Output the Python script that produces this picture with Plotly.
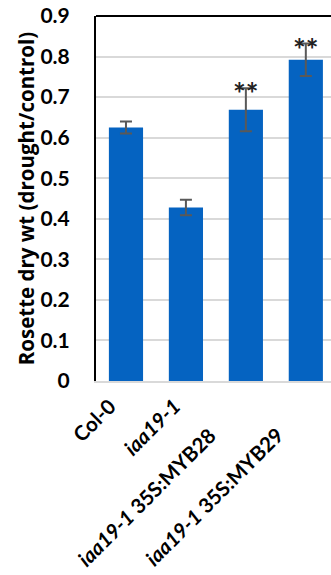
import plotly.graph_objects as go

# Genotypes and rosette dry weight ratios (drought/control)
genotypes = ["Col-0", "<i>iaa19-1</i>", "<i>iaa19-1</i> 35S:MYB28", "<i>iaa19-1</i> 35S:MYB29"]
ratio = [0.625, 0.428, 0.669, 0.792]
ratio_err = [0.015, 0.019, 0.053, 0.040]
significance = ["", "", "**", "**"]

# Category-label placement (pixel nudges of each rotated label end)
label_dx = [-3, 1, -23, -15]
label_dy = [-10, -10, -39, -39]

FONT = "Lato, 'Open Sans', sans-serif"
BLUE = "#0563C1"

fig = go.Figure()
fig.add_trace(go.Bar(
    x=list(range(len(genotypes))),
    y=ratio,
    marker=dict(color=BLUE, line=dict(width=0)),
    width=0.57,
    error_y=dict(type="data", array=ratio_err, visible=True,
                 color="#595959", thickness=2, width=6),
))

for i, (v, e, s) in enumerate(zip(ratio, ratio_err, significance)):
    if s:
        fig.add_annotation(x=i, y=v + e, text=f"<b>{s}</b>", showarrow=False,
                           yanchor="middle", yshift=-5,
                           font=dict(family=FONT, size=30, color="#222222"))

# Rotated category labels
for i, g in enumerate(genotypes):
    fig.add_annotation(x=i, y=0, xref="x", yref="y", text=f"<b>{g}</b>",
                       showarrow=False, textangle=-45,
                       xanchor="right", yanchor="top",
                       xshift=label_dx[i], yshift=label_dy[i],
                       font=dict(family=FONT, size=20.5, color="black"))

fig.update_layout(
    width=331, height=575,
    margin=dict(l=96, r=0, t=16, b=194),
    paper_bgcolor="white", plot_bgcolor="white",
    showlegend=False,
    font=dict(family=FONT, color="black"),
    xaxis=dict(
        tickmode="array",
        tickvals=list(range(len(genotypes))),
        showticklabels=False,
        range=[-0.5, 3.42],
        showline=True, linecolor="#d9d9d9", linewidth=2,
        showgrid=False, ticks="",
        automargin=False,
    ),
    yaxis=dict(
        range=[0, 0.9],
        dtick=0.1,
        tickformat=".1~f",
        tickfont=dict(family=FONT, size=21, color="black", weight="bold"),
        showgrid=True, gridcolor="#d9d9d9", gridwidth=1.5,
        showline=True, linecolor="black", linewidth=2,
        zeroline=False,
        ticks="",
        ticklabelstandoff=20,
        automargin=False,
        title=dict(text="Rosette dry wt (drought/control)",
                   font=dict(family="'Open Sans', sans-serif", size=20.5,
                             color="black", weight="bold"),
                   standoff=0),
    ),
    shapes=[dict(type="line", xref="paper", yref="paper",
                 x0=0, x1=1, y0=1, y1=1,
                 line=dict(color="black", width=2))],
)

fig.write_html("out.html")
